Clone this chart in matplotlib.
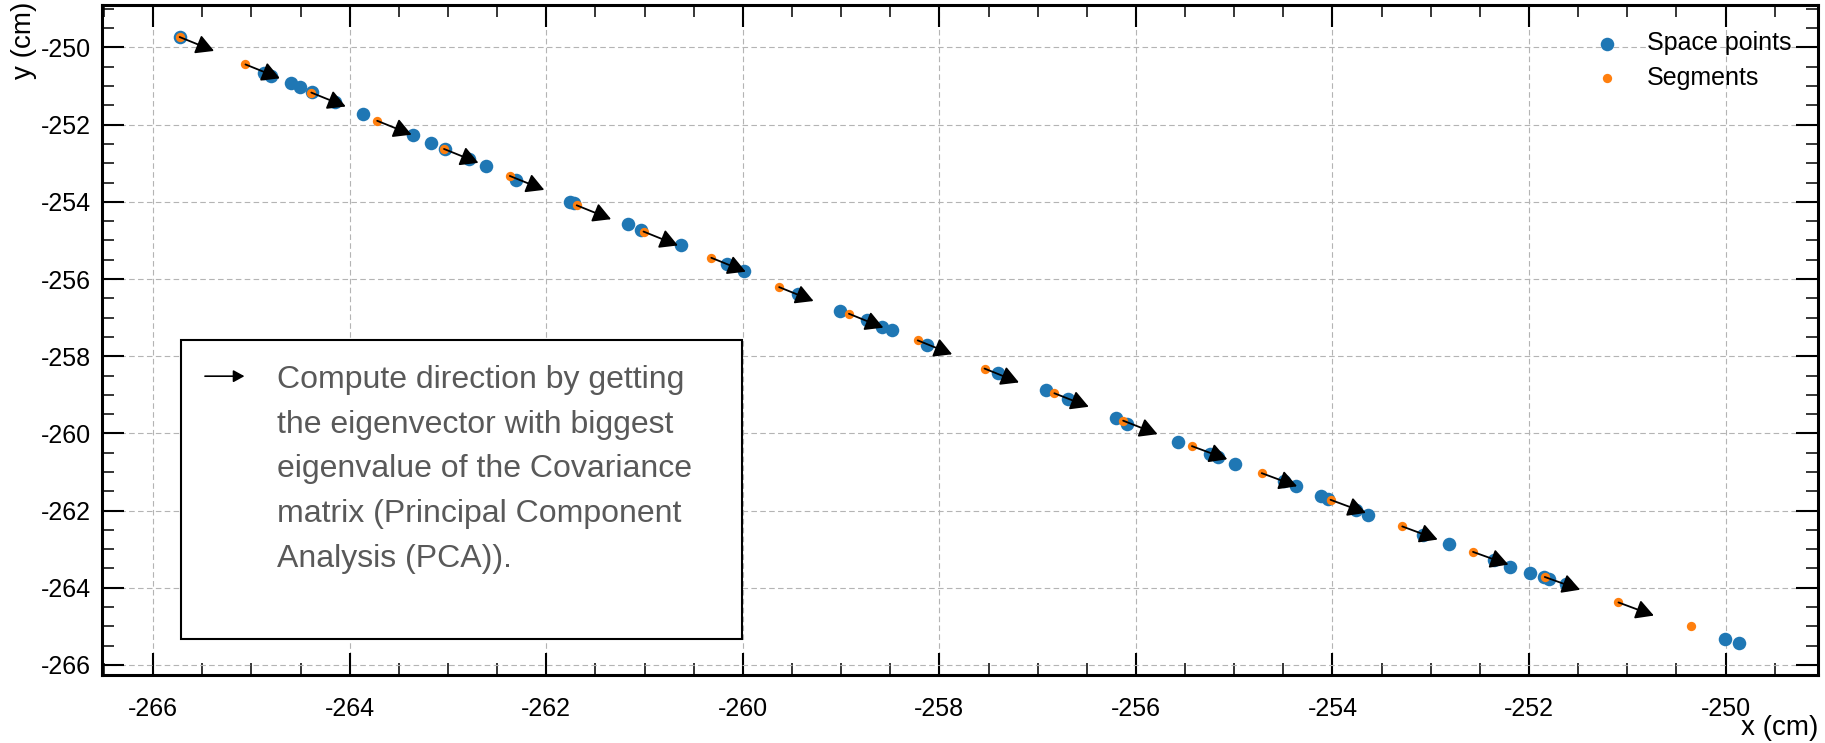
import numpy as np
import matplotlib.pyplot as plt
from matplotlib.patches import Rectangle

plt.rcParams['font.family'] = ['Liberation Sans', 'DejaVu Sans']
plt.rcParams['axes.unicode_minus'] = False

# space points (blue)
sp_x = [-265.73, -264.87, -264.80, -264.60, -264.51, -264.38, -264.15, -263.86, -263.36, -263.17,
        -263.03, -262.79, -262.61, -262.31, -261.76, -261.72, -261.17, -261.04, -260.63, -260.16,
        -259.99, -259.44, -259.01, -258.74, -258.58, -258.48, -258.13, -257.40, -256.92, -256.69,
        -256.20, -256.09, -255.57, -255.25, -255.16, -254.99, -254.49, -254.37, -254.12, -254.05,
        -253.76, -253.64, -253.08, -252.81, -252.36, -252.19, -251.99, -251.85, -251.80, -251.62,
        -250.01, -249.86]
sp_y = [-249.73, -250.65, -250.74, -250.93, -251.03, -251.16, -251.42, -251.73, -252.27, -252.47,
        -252.62, -252.90, -253.07, -253.43, -254.00, -254.02, -254.58, -254.72, -255.13, -255.61,
        -255.80, -256.39, -256.82, -257.06, -257.24, -257.31, -257.70, -258.43, -258.88, -259.12,
        -259.61, -259.76, -260.23, -260.53, -260.62, -260.79, -261.24, -261.37, -261.62, -261.71,
        -261.98, -262.11, -262.63, -262.86, -263.29, -263.46, -263.61, -263.72, -263.77, -263.89,
        -265.33, -265.43]

# segments (orange)
seg_x = [-265.73, -265.06, -264.39, -263.72, -263.04, -262.37, -261.69, -261.01, -260.32, -259.63,
         -258.92, -258.22, -257.54, -256.83, -256.13, -255.43, -254.72, -254.02, -253.29, -252.57,
         -251.84, -251.09, -250.35]
seg_y = [-249.73, -250.44, -251.17, -251.90, -252.63, -253.33, -254.09, -254.77, -255.45, -256.21,
         -256.90, -257.59, -258.32, -258.96, -259.67, -260.33, -261.03, -261.72, -262.41, -263.07,
         -263.72, -264.38, -265.00]

# direction arrows, one per segment (last segment has none)
dir_dx = [0.35, 0.35, 0.35, 0.35, 0.35, 0.35, 0.35, 0.35, 0.35, 0.35, 0.35,
          0.35, 0.35, 0.35, 0.35, 0.36, 0.36, 0.36, 0.36, 0.36, 0.36, 0.36]
dir_dy = [-0.36, -0.36, -0.36, -0.36, -0.36, -0.36, -0.36, -0.36, -0.36, -0.36, -0.36,
          -0.36, -0.36, -0.35, -0.35, -0.34, -0.34, -0.34, -0.34, -0.33, -0.33, -0.34]

box_text = ("Compute direction by getting\nthe eigenvector with biggest\n"
            "eigenvalue of the Covariance\nmatrix (Principal Component\nAnalysis (PCA)).")

fig = plt.figure(figsize=(18.25, 7.43), dpi=100)
ax = fig.add_axes([102 / 1825, 1 - 675 / 743, 1716 / 1825, 670 / 743])

ax.scatter(sp_x, sp_y, s=95, color='#1f77b4', linewidths=0, label='Space points', zorder=3)
ax.scatter(seg_x, seg_y, s=45, color='#ff7f0e', linewidths=0, label='Segments', zorder=4)

for i in range(len(dir_dx)):
    ax.annotate('', xy=(seg_x[i] + dir_dx[i], seg_y[i] + dir_dy[i]), xytext=(seg_x[i], seg_y[i]),
                arrowprops=dict(arrowstyle='-|>,head_length=0.6,head_width=0.33', color='black',
                                lw=1.3, mutation_scale=18, shrinkA=0, shrinkB=0), zorder=5)

ax.set_xlim(-266.52, -249.06)
ax.set_ylim(-266.26, -248.90)
ax.set_xticks(np.arange(-266, -249, 2))
ax.set_yticks(np.arange(-266, -249, 2))
ax.set_xticks(np.arange(-266.5, -249, 0.5), minor=True)
ax.set_yticks(np.arange(-266, -248.9, 0.5), minor=True)
ax.tick_params(which='both', direction='in', top=True, right=True, labelsize=18)
ax.tick_params(which='major', length=16, width=1.5)
ax.tick_params(which='minor', length=8.5, width=1.1)
ax.tick_params(axis='x', which='major', pad=16)
ax.tick_params(axis='y', which='major', pad=8)
for s in ax.spines.values():
    s.set_linewidth(2.2)
ax.grid(True, which='major', color='#b4b4b4', linestyle=(0, (5, 3)), linewidth=0.8)
ax.set_axisbelow(True)

ax.set_xlabel('x (cm)', fontsize=20, loc='right')
ax.xaxis.set_label_coords(1.0, -0.059)
ax.xaxis.label.set_va('top')
ax.set_ylabel('y (cm)', fontsize=20, loc='top')
ax.yaxis.set_label_coords(-0.038, 1.005)

ax.legend(loc='upper right', frameon=False, fontsize=18, scatterpoints=1, borderaxespad=0.65,
          labelspacing=0.42, handletextpad=0.6)

# annotation box
ax.add_patch(Rectangle((0.046, 0.054), 0.327, 0.446, transform=ax.transAxes, facecolor='white',
                       edgecolor='black', linewidth=1.5, zorder=6))
ax.annotate('', xy=(0.083, 0.446), xytext=(0.060, 0.446), xycoords='axes fraction',
            arrowprops=dict(arrowstyle='-|>,head_length=0.6,head_width=0.33', color='black',
                            lw=1.2, mutation_scale=11, shrinkA=0, shrinkB=0), zorder=7)
ax.text(0.102, 0.463, box_text, transform=ax.transAxes, fontsize=23, color='#595959',
        va='top', ha='left', linespacing=1.64, zorder=7)

fig.savefig('out.png', dpi=100)
